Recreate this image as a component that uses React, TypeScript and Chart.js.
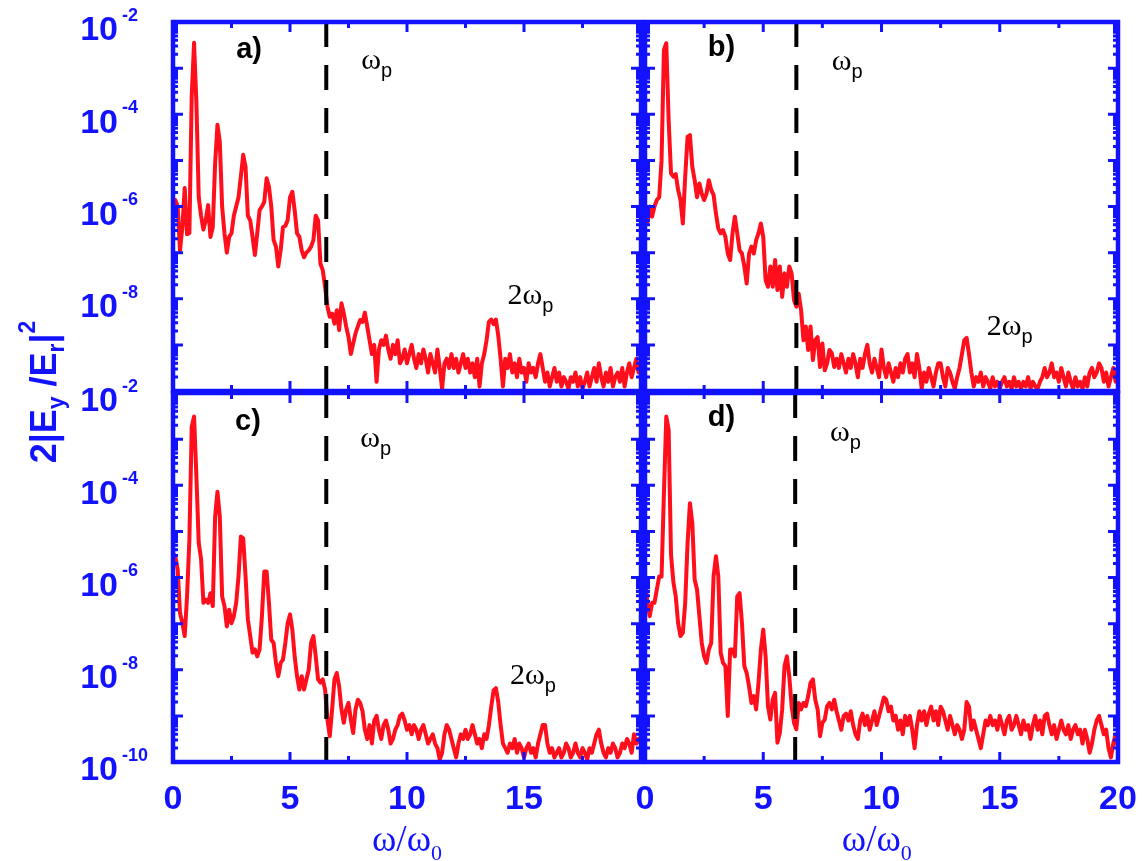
import React, { useEffect, useRef } from "react";
import { Chart, registerables } from "chart.js";

Chart.register(...registerables);

// frequency step of the sampled spectra (omega / omega_0)
const OMEGA_STEP = 0.1;

// log10 of 2|Ey/Er|^2, sampled at omega = 0, 0.1, ..., 20
const logA = [
  -5.9, -5.86, -6.0, -6.95, -6.45, -5.6, -6.6, -6.58, -3.6, -2.45,
  -3.76, -5.8, -6.2, -6.5, -6.3, -5.97, -6.66, -6.45, -5.07, -4.23,
  -4.6, -6.0, -6.58, -7.0, -6.66, -6.58, -6.2, -6.0, -5.8, -5.35,
  -4.88, -5.14, -6.2, -6.3, -6.66, -7.05, -6.58, -6.08, -6.0, -5.9,
  -5.39, -5.57, -6.0, -6.73, -6.87, -7.3, -6.95, -6.45, -6.42, -6.3,
  -5.8, -5.68, -6.08, -6.58, -6.66, -6.95, -7.1, -7.0, -6.95, -6.87,
  -6.73, -6.2, -6.3, -7.24, -7.38, -7.74, -8.17, -8.39, -8.32, -8.54,
  -8.25, -8.68, -8.1, -8.32, -8.6, -8.83, -9.2, -8.97, -8.75, -8.6, -8.46,
  -8.5, -8.3, -8.6, -8.9, -9.2, -9.0, -9.8, -9.1, -8.9, -9.0,
  -8.8, -9.1, -9.3, -9.0, -9.2, -8.9, -9.4, -9.3, -9.1, -9.4,
  -9.2, -9.0, -9.3, -9.5, -9.2, -9.4, -9.1, -9.3, -9.6, -9.2,
  -9.4, -9.6, -9.1, -9.5, -9.95, -9.4, -9.3, -9.5, -9.2, -9.5,
  -9.3, -9.6, -9.4, -9.2, -9.5, -9.3, -9.6, -9.4, -9.7, -9.3,
  -9.9, -9.4, -9.2, -8.9, -8.5, -8.45, -8.55, -8.45, -8.8, -9.3,
  -9.9, -9.3, -9.5, -9.2, -9.6, -9.4, -9.7, -9.3, -9.6, -9.5,
  -9.8, -9.4, -9.6, -9.5, -9.7, -9.4, -9.2, -9.5, -9.8, -9.6,
  -9.9, -9.7, -9.5, -9.8, -9.6, -9.9, -9.7, -9.8, -9.95, -9.7,
  -9.8, -9.6, -9.9, -9.7, -9.95, -9.8, -9.6, -9.9, -9.7, -9.5,
  -9.8, -9.4, -9.7, -9.9, -9.6, -9.8, -9.5, -9.9, -9.7, -9.6,
  -9.8, -9.5, -9.9, -9.6, -9.4, -9.7, -9.5, -9.3, -9.6, -9.4,
];

const logB = [
  -6.0, -6.37, -6.0, -6.22, -6.0, -5.86, -5.8, -5.0, -2.6, -2.46,
  -4.13, -5.28, -5.35, -5.3, -5.64, -5.86, -6.37, -5.35, -4.49, -4.45,
  -5.14, -5.43, -5.8, -5.5, -5.72, -5.86, -5.72, -5.43, -5.64, -5.75,
  -6.15, -6.48, -6.58, -6.51, -6.66, -7.02, -7.16, -6.58, -6.22, -6.58,
  -6.95, -7.02, -7.3, -7.67, -7.02, -6.87, -7.02, -6.73, -6.58, -6.37,
  -6.66, -7.6, -7.74, -7.3, -7.74, -7.16, -7.81, -7.3, -7.96, -7.45,
  -7.74, -7.3, -7.45, -8.03, -8.17, -7.89, -8.25, -8.9, -8.6, -9.11,
  -8.6, -9.33, -8.9, -8.83, -9.48, -8.97, -9.55, -9.4, -9.11, -9.18, -9.48,
  -9.3, -9.5, -9.2, -9.4, -9.6, -9.3, -9.5, -9.2, -9.4, -9.7,
  -9.3, -9.5, -9.2, -9.0, -9.4, -9.6, -9.3, -9.5, -9.7, -9.1,
  -9.5, -9.7, -9.4, -9.6, -9.8, -9.5, -9.7, -9.4, -9.6, -9.3,
  -9.2, -9.6, -9.4, -9.7, -9.2, -9.5, -9.95, -9.6, -9.8, -9.5,
  -9.7, -9.9, -9.6, -9.4, -9.4, -9.7, -9.9, -9.5, -9.6, -9.8,
  -9.95, -9.7, -9.5, -9.2, -8.9, -8.85, -9.2, -9.6, -9.9, -9.7,
  -9.8, -9.6, -9.9, -9.7, -9.8, -9.95, -9.7, -9.9, -9.8, -9.95,
  -9.8, -9.7, -9.9, -9.8, -9.95, -9.7, -9.9, -9.8, -9.95, -9.8,
  -9.9, -9.7, -9.95, -9.8, -9.9, -9.95, -9.8, -9.7, -9.5, -9.7,
  -9.6, -9.4, -9.7, -9.6, -9.8, -9.5, -9.7, -9.9, -9.6, -9.8,
  -9.95, -9.7, -9.9, -9.8, -9.95, -9.7, -9.9, -9.6, -9.5, -9.7,
  -9.6, -9.4, -9.5, -9.8, -9.6, -9.9, -9.7, -9.5, -9.8, -9.6,
];

const logC = [
  -5.47, -5.54, -5.83, -6.77, -6.99, -7.27, -6.41, -5.18, -2.73, -2.51,
  -3.81, -5.25, -5.6, -6.55, -6.48, -6.55, -6.34, -6.62, -4.68, -4.14,
  -4.68, -6.41, -6.62, -7.06, -6.7, -6.99, -6.84, -6.55, -5.97, -5.11,
  -5.15, -5.97, -6.91, -7.27, -7.63, -7.56, -7.71, -7.56, -6.84, -5.87,
  -5.87, -6.55, -7.35, -7.42, -7.85, -8.14, -7.85, -7.78, -7.42, -6.99,
  -6.8, -7.13, -7.71, -8.14, -8.43, -8.14, -8.43, -8.21, -8.0, -7.42,
  -7.27, -7.71, -8.21, -8.28, -8.21, -8.43, -9.08, -9.44, -8.86, -8.21,
  -8.07, -8.36, -8.86, -9.15, -8.86, -8.72, -9.08, -9.37, -8.86, -8.65, -8.72,
  -8.9, -9.3, -9.5, -9.2, -9.6, -9.1, -9.0, -9.3, -9.5, -9.2,
  -9.1, -9.3, -9.6, -9.5, -9.3, -9.2, -9.0, -8.95, -9.1, -9.3,
  -9.2, -9.4, -9.2, -9.3, -9.5, -9.3, -9.2, -9.4, -9.6, -9.5,
  -9.4, -9.6, -9.7, -9.95, -9.8, -9.4, -9.2, -9.3, -9.5, -9.7,
  -9.9, -9.6, -9.4, -9.5, -9.3, -9.5, -9.4, -9.2, -9.4, -9.6,
  -9.5, -9.7, -9.4, -9.5, -9.2, -8.8, -8.45, -8.4, -8.7, -9.2,
  -9.6, -9.7, -9.8, -9.6, -9.7, -9.5, -9.8, -9.6, -9.7, -9.9,
  -9.7, -9.6, -9.8, -9.7, -9.9, -9.6, -9.4, -9.2, -9.2, -9.6,
  -9.8, -9.7, -9.9, -9.8, -9.7, -9.9, -9.8, -9.6, -9.7, -9.9,
  -9.8, -9.6, -9.8, -9.9, -9.7, -9.8, -9.95, -9.7, -9.8, -9.6,
  -9.4, -9.3, -9.6, -9.8, -9.9, -9.7, -9.8, -9.6, -9.7, -9.9,
  -9.8, -9.6, -9.7, -9.5, -9.6, -9.8, -9.4, -9.6, -9.5, -9.6,
];

const logD = [
  -5.98, -6.55, -6.84, -6.55, -6.55, -6.26, -5.98, -5.98, -4.17, -2.51,
  -2.8, -5.5, -6.1, -6.41, -6.99, -7.27, -7.2, -6.55, -5.25, -4.39,
  -4.82, -6.05, -6.26, -6.84, -7.42, -7.71, -7.85, -7.56, -7.42, -5.98,
  -5.54, -5.98, -7.63, -7.85, -7.92, -9.0, -7.56, -7.56, -7.71, -6.41,
  -6.34, -6.99, -7.92, -8.07, -8.36, -8.72, -8.57, -8.86, -8.28, -7.56,
  -7.13, -7.71, -8.79, -9.08, -8.65, -8.5, -9.58, -9.37, -8.86, -7.92,
  -7.71, -8.14, -8.79, -9.15, -9.29, -8.72, -8.86, -8.72, -8.79, -8.57,
  -8.28, -8.21, -8.65, -8.86, -9.44, -9.15, -9.08, -8.79, -8.72, -8.86, -8.65,
  -8.9, -9.1, -9.3, -9.0, -8.95, -9.1, -8.9, -9.2, -9.4, -9.5,
  -9.1, -8.95, -9.2, -9.0, -9.3, -9.1, -8.9, -9.2, -9.0, -8.8,
  -8.6, -8.65, -8.9, -8.8, -9.1, -9.0, -9.3, -9.1, -9.4, -9.0,
  -9.2, -9.0, -9.3, -9.7, -9.2, -8.9, -9.1, -8.9, -9.2, -8.95,
  -8.8, -9.1, -8.9, -9.2, -8.8, -8.9, -9.1, -9.3, -9.0, -9.2,
  -9.4, -9.2, -9.3, -9.5, -9.3, -8.7, -8.8, -9.3, -9.1, -9.3,
  -9.5, -9.7, -9.4, -9.1, -9.2, -9.0, -9.2, -9.1, -9.3, -9.0,
  -9.2, -9.4, -9.1, -9.0, -9.3, -9.2, -9.0, -9.2, -9.4, -9.1,
  -9.3, -9.2, -9.5, -9.2, -9.0, -9.3, -9.1, -9.4, -9.0, -8.95,
  -9.2, -9.4, -9.2, -9.5, -9.3, -9.1, -9.3, -9.4, -9.2, -9.5,
  -9.3, -9.2, -9.4, -9.3, -9.6, -9.3, -9.5, -9.8, -9.6, -9.3,
  -9.1, -9.0, -9.2, -9.4, -9.3, -9.7, -9.9, -9.6, -9.4, -9.7,
];

// axis ticks
const X_MAJOR_TICKS = [0, 5, 10, 15, 20];
const X_MINOR_TICKS = [2.5, 7.5, 12.5, 17.5];
const Y_DECADES = [-2, -3, -4, -5, -6, -7, -8, -9, -10];
const Y_LABEL_DECADES_TOP = [-2, -4, -6, -8];
const Y_LABEL_DECADES_BOTTOM = [-2, -4, -6, -8, -10];
const X_LABELS_LEFT = [0, 5, 10, 15];
const X_LABELS_RIGHT = [0, 5, 10, 15, 20];

const BLUE = "rgb(18,18,255)";
const RED = "rgb(255,14,28)";
const SANS = '"Liberation Sans", Arial, sans-serif';
const SERIF = '"Liberation Serif", "Times New Roman", serif';

type Panel = {
  id: string;
  logs: number[];
  plasma: number;
  box: { left: number; right: number; top: number; bottom: number };
  letter: string;
  letterAt: [number, number];
  wpAt: [number, number];
  twoWpAt: [number, number] | null;
  yLabels: number[];
  xLabels: number[];
  xTitleAt: number | null;
  yTitle: boolean;
};

const PANELS: Panel[] = [
  {
    id: "a", logs: logA, plasma: 6.55,
    box: { left: 173, right: 641, top: 22, bottom: 391 },
    letter: "a)", letterAt: [2.7, -2.6], wpAt: [8.05, -2.85], twoWpAt: [14.3, -7.9],
    yLabels: Y_LABEL_DECADES_TOP, xLabels: [], xTitleAt: null, yTitle: false,
  },
  {
    id: "b", logs: logB, plasma: 6.4,
    box: { left: 645, right: 1118, top: 22, bottom: 391 },
    letter: "b)", letterAt: [2.65, -2.56], wpAt: [7.9, -2.87], twoWpAt: [14.45, -8.57],
    yLabels: [], xLabels: [], xTitleAt: null, yTitle: false,
  },
  {
    id: "c", logs: logC, plasma: 6.55,
    box: { left: 173, right: 641, top: 393, bottom: 762 },
    letter: "c)", letterAt: [2.65, -2.63], wpAt: [8.0, -3.0], twoWpAt: [14.4, -8.1],
    yLabels: Y_LABEL_DECADES_BOTTOM, xLabels: X_LABELS_LEFT, xTitleAt: 10.0, yTitle: true,
  },
  {
    id: "d", logs: logD, plasma: 6.35,
    box: { left: 645, right: 1118, top: 393, bottom: 762 },
    letter: "d)", letterAt: [2.65, -2.54], wpAt: [7.82, -2.87], twoWpAt: null,
    yLabels: [], xLabels: X_LABELS_RIGHT, xTitleAt: 9.8, yTitle: false,
  },
];

function drawSegments(
  ctx: CanvasRenderingContext2D,
  segs: { t: string; font: string; dy: number }[],
  x: number,
  y: number,
  align: "left" | "center"
) {
  let total = 0;
  for (const s of segs) {
    ctx.font = s.font;
    total += ctx.measureText(s.t).width;
  }
  let cx = align === "center" ? x - total / 2 : x;
  ctx.textAlign = "left";
  ctx.textBaseline = "alphabetic";
  for (const s of segs) {
    ctx.font = s.font;
    ctx.fillText(s.t, cx, y + s.dy);
    cx += ctx.measureText(s.t).width;
  }
}

const decorPlugin = {
  id: "panelDecor",
  afterDatasetsDraw(chart: any, _args: any, opts: any) {
    const p: Panel = opts.panel;
    if (!p) return;
    const ctx: CanvasRenderingContext2D = chart.ctx;
    const xs = chart.scales.x;
    const ys = chart.scales.y;
    const { left, right, top, bottom } = chart.chartArea;
    ctx.save();

    // ticks (inward)
    ctx.strokeStyle = BLUE;
    ctx.lineWidth = 3;
    ctx.beginPath();
    const xt = (v: number, len: number) => {
      const px = xs.getPixelForValue(v);
      ctx.moveTo(px, bottom);
      ctx.lineTo(px, bottom - len);
      ctx.moveTo(px, top);
      ctx.lineTo(px, top + len);
    };
    X_MAJOR_TICKS.forEach((v) => xt(v, 10));
    X_MINOR_TICKS.forEach((v) => xt(v, 6));
    const yt = (v: number, len: number) => {
      const py = ys.getPixelForValue(v);
      ctx.moveTo(left, py);
      ctx.lineTo(left + len, py);
      ctx.moveTo(right, py);
      ctx.lineTo(right - len, py);
    };
    Y_DECADES.forEach((d) => {
      yt(Math.pow(10, d), 10);
      if (d > -10) {
        for (let k = 2; k <= 9; k++) yt(k * Math.pow(10, d - 1), 5);
      }
    });
    ctx.stroke();

    // frame
    ctx.lineWidth = 4.5;
    ctx.strokeRect(left, top, right - left, bottom - top);

    // y tick labels 10^n
    ctx.fillStyle = BLUE;
    p.yLabels.forEach((d) => {
      const py = ys.getPixelForValue(Math.pow(10, d));
      ctx.font = `bold 34px ${SANS}`;
      ctx.textAlign = "right";
      ctx.textBaseline = "middle";
      ctx.fillText("10", left - 55, py + 9);
      ctx.font = `bold 18px ${SANS}`;
      ctx.textAlign = "left";
      ctx.fillText(String(d), left - 51, py - 6);
    });

    // x tick labels
    ctx.font = `bold 34px ${SANS}`;
    ctx.textAlign = "center";
    ctx.textBaseline = "middle";
    p.xLabels.forEach((v) => {
      ctx.fillText(String(v), xs.getPixelForValue(v), bottom + 38);
    });

    // x title
    if (p.xTitleAt !== null) {
      drawSegments(
        ctx,
        [
          { t: "ω/ω", font: `37px ${SERIF}`, dy: 0 },
          { t: "0", font: `22px ${SERIF}`, dy: 9 },
        ],
        xs.getPixelForValue(p.xTitleAt),
        bottom + 89,
        "center"
      );
    }

    // y title (rotated)
    if (p.yTitle) {
      ctx.save();
      ctx.translate(56, 392);
      ctx.rotate(-Math.PI / 2);
      const big = `bold 36px ${SANS}`;
      const small = `bold 23px ${SANS}`;
      drawSegments(
        ctx,
        [
          { t: "2|E", font: big, dy: 0 },
          { t: "y", font: small, dy: 8 },
          { t: " /E", font: big, dy: 0 },
          { t: "r", font: small, dy: 8 },
          { t: "|", font: big, dy: 0 },
          { t: "2", font: small, dy: -21 },
        ],
        0,
        0,
        "center"
      );
      ctx.restore();
    }

    // panel letter
    ctx.fillStyle = "#000";
    ctx.font = `bold 29px ${SANS}`;
    ctx.textAlign = "left";
    ctx.textBaseline = "middle";
    ctx.fillText(
      p.letter,
      xs.getPixelForValue(p.letterAt[0]),
      ys.getPixelForValue(Math.pow(10, p.letterAt[1]))
    );

    // omega_p labels
    const wpx = xs.getPixelForValue(p.wpAt[0]);
    const wpy = ys.getPixelForValue(Math.pow(10, p.wpAt[1]));
    drawSegments(
      ctx,
      [
        { t: "ω", font: `30px ${SERIF}`, dy: 0 },
        { t: "p", font: `20px ${SANS}`, dy: 8 },
      ],
      wpx,
      wpy + 8,
      "left"
    );
    if (p.twoWpAt) {
      drawSegments(
        ctx,
        [
          { t: "2ω", font: `30px ${SERIF}`, dy: 0 },
          { t: "p", font: `20px ${SANS}`, dy: 8 },
        ],
        xs.getPixelForValue(p.twoWpAt[0]),
        ys.getPixelForValue(Math.pow(10, p.twoWpAt[1])) + 10,
        "left"
      );
    }
    ctx.restore();
  },
};

function makeChart(canvas: HTMLCanvasElement, p: Panel) {
  const W = 1145;
  const H = 861;
  const spectrum = p.logs.map((v, i) => ({ x: i * OMEGA_STEP, y: Math.pow(10, v) }));
  const plasmaLine = [
    { x: p.plasma, y: 1e-10 },
    { x: p.plasma, y: 1e-2 },
  ];
  return new Chart(canvas, {
    type: "line",
    data: {
      datasets: [
        {
          data: plasmaLine,
          borderColor: "#000",
          borderWidth: 4,
          borderDash: [25, 18],
          pointRadius: 0,
          order: 0,
        },
        {
          data: spectrum,
          borderColor: RED,
          borderWidth: 4,
          borderJoinStyle: "round",
          pointRadius: 0,
          tension: 0,
          order: 1,
        },
      ],
    },
    options: {
      responsive: false,
      animation: false,
      devicePixelRatio: 1,
      events: [],
      parsing: false as any,
      layout: {
        padding: { left: p.box.left, right: W - p.box.right, top: p.box.top, bottom: H - p.box.bottom },
      },
      scales: {
        x: { type: "linear", min: 0, max: 20, display: false },
        y: { type: "logarithmic", min: 1e-10, max: 1e-2, display: false },
      },
      plugins: {
        legend: { display: false },
        tooltip: { enabled: false },
        panelDecor: { panel: p },
      } as any,
    },
    plugins: [decorPlugin],
  });
}

export default function App() {
  const r0 = useRef<HTMLCanvasElement>(null);
  const r1 = useRef<HTMLCanvasElement>(null);
  const r2 = useRef<HTMLCanvasElement>(null);
  const r3 = useRef<HTMLCanvasElement>(null);
  const refs = [r0, r1, r2, r3];
  useEffect(() => {
    const charts = PANELS.map((p, i) => makeChart(refs[i].current as HTMLCanvasElement, p));
    return () => charts.forEach((c) => c.destroy());
  }, []);
  return (
    <div style={{ position: "absolute", left: 0, top: 0, width: 1145, height: 861, background: "#fff" }}>
      {PANELS.map((p, i) => (
        <canvas
          key={p.id}
          ref={refs[i]}
          width={1145}
          height={861}
          style={{ position: "absolute", left: 0, top: 0, width: 1145, height: 861 }}
        />
      ))}
    </div>
  );
}
